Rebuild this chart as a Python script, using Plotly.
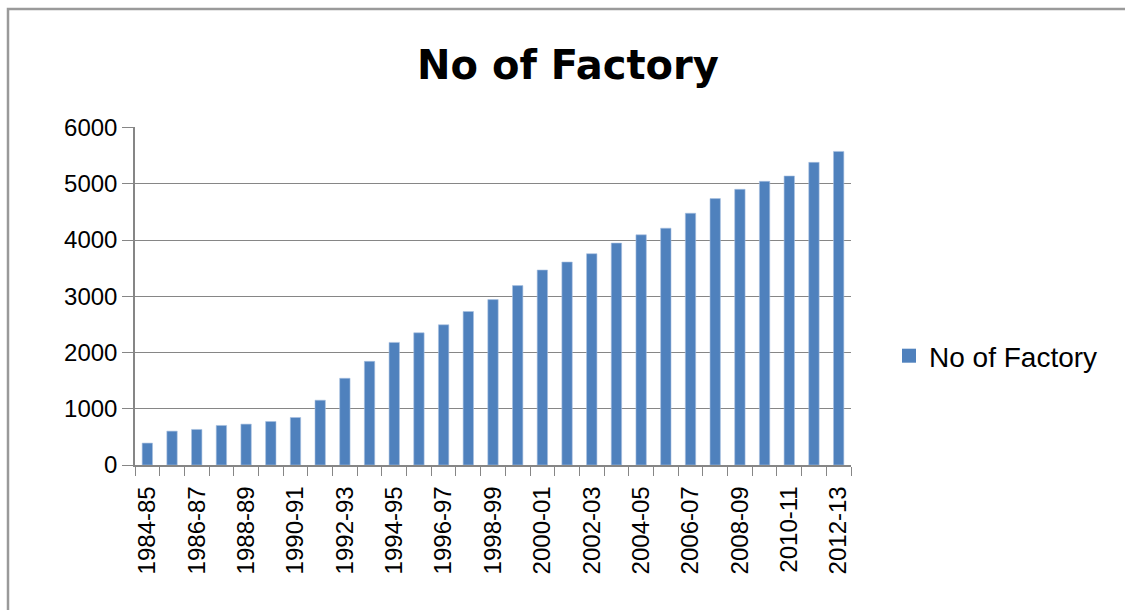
import plotly.graph_objects as go

categories = ["1984-85", "1985-86", "1986-87", "1987-88", "1988-89", "1989-90",
              "1990-91", "1991-92", "1992-93", "1993-94", "1994-95", "1995-96",
              "1996-97", "1997-98", "1998-99", "1999-00", "2000-01", "2001-02",
              "2002-03", "2003-04", "2004-05", "2005-06", "2006-07", "2007-08",
              "2008-09", "2009-10", "2010-11", "2011-12", "2012-13"]
factories = [390, 602, 632, 703, 727, 774, 845, 1152, 1542, 1843, 2180, 2351,
             2493, 2729, 2941, 3190, 3467, 3609, 3757, 3946, 4093, 4211, 4477,
             4737, 4902, 5044, 5139, 5381, 5576]
series_name = "No of Factory"
y_ticks = [0, 1000, 2000, 3000, 4000, 5000, 6000]
tick_text = [c if i % 2 == 0 else "" for i, c in enumerate(categories)]

W, H = 1125, 610
L, R, T, B = 135, 851, 127, 465

fig = go.Figure()
fig.add_trace(go.Bar(
    x=categories, y=factories, name=series_name,
    marker=dict(color="#4F81BD", line=dict(color="#A9C1E0", width=0.6)),
    showlegend=False,
))
# legend entry with a larger square symbol
fig.add_trace(go.Scatter(
    x=[None], y=[None], mode="markers", name=series_name,
    marker=dict(symbol="square", size=14, color="#4F81BD"),
    showlegend=True,
))

grey = "#868686"
fig.update_layout(
    width=W, height=H,
    margin=dict(l=L, r=W - R, t=T, b=H - B, autoexpand=False),
    paper_bgcolor="white", plot_bgcolor="white",
    bargap=0.58,
    font=dict(family="Liberation Sans, Arial, sans-serif", color="black"),
    title=dict(text="<b>No of Factory</b>", x=568 / W, xref="container", xanchor="center",
               y=1 - 65 / H, yref="container", yanchor="middle",
               font=dict(family="DejaVu Sans", size=40, color="black")),
    legend=dict(x=(889 - L) / (R - L), xanchor="left", y=(B - 356) / (B - T), yanchor="middle",
                font=dict(size=28), itemwidth=30, bgcolor="rgba(0,0,0,0)",
                tracegroupgap=0),
    xaxis=dict(
        type="category", tickmode="array", tickvals=categories, ticktext=tick_text,
        tickson="boundaries", ticks="outside", ticklen=9, tickcolor=grey, tickwidth=1,
        tickangle=-90, tickfont=dict(size=24), ticklabelstandoff=10,
        showline=True, linecolor=grey, linewidth=1.5, showgrid=False,
        range=[-0.5, len(categories) - 0.5],
    ),
    yaxis=dict(
        range=[0, 6010], tickmode="array", tickvals=y_ticks,
        ticks="outside", ticklen=11, tickcolor=grey, tickwidth=1,
        tickfont=dict(size=24), showline=True, linecolor=grey, linewidth=1.5,
        showgrid=True, gridcolor=grey, gridwidth=1, zeroline=False,
    ),
    shapes=[dict(type="rect", xref="paper", yref="paper",
                 x0=(8 - L) / (R - L), x1=(1140 - L) / (R - L),
                 y0=(B - 625) / (B - T), y1=(B - 9) / (B - T),
                 line=dict(color="#9A9A9A", width=2.5), fillcolor="rgba(0,0,0,0)",
                 layer="below")],
)

fig.write_html("out.html")
